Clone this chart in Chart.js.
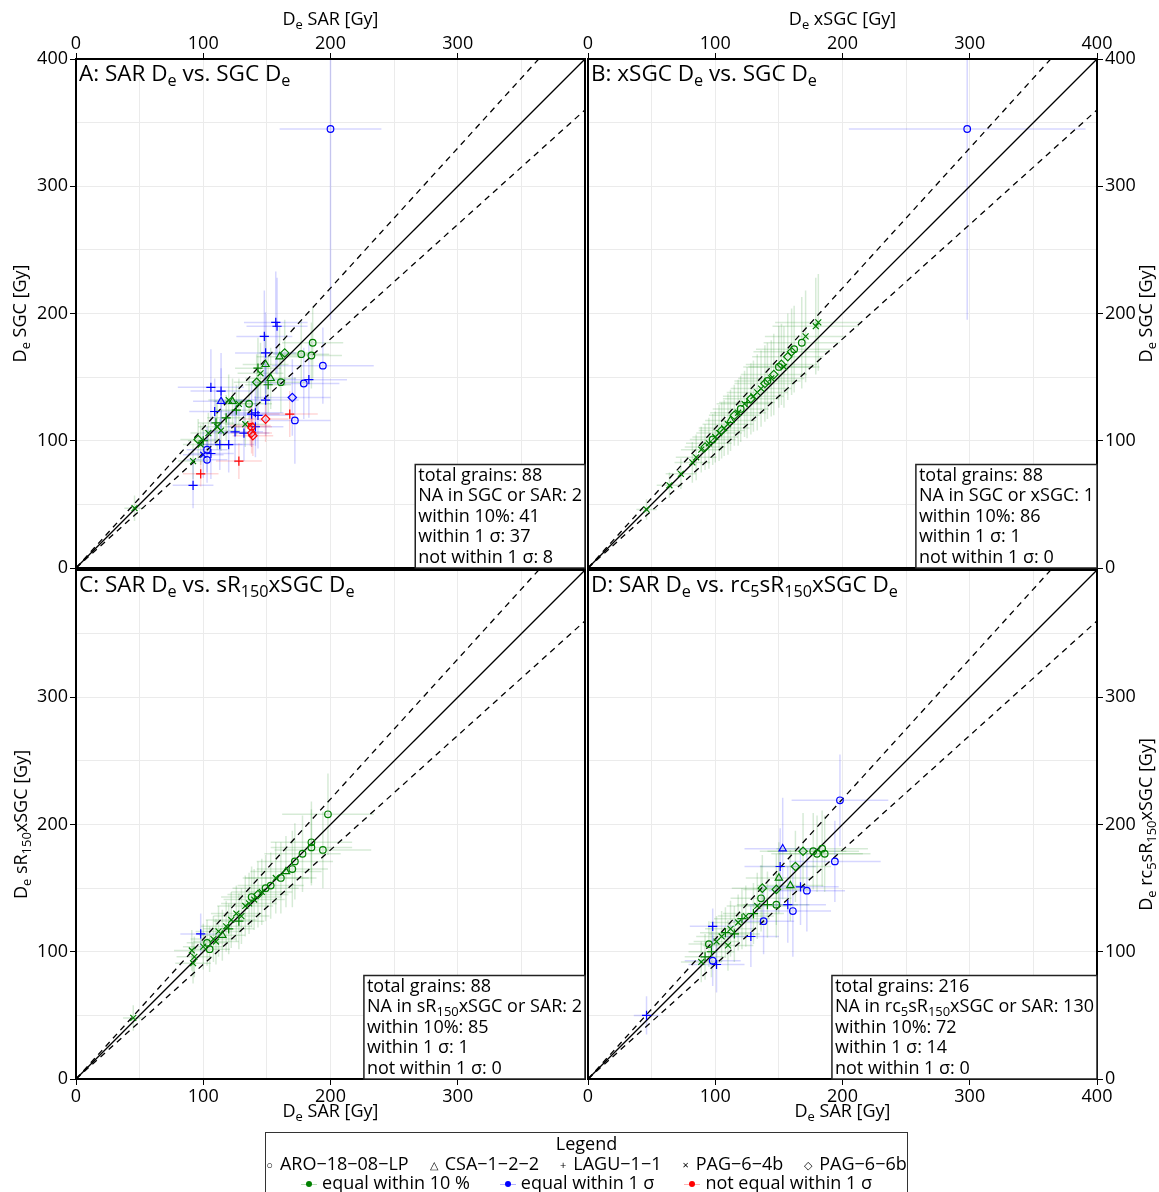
<!DOCTYPE html>
<html>
<head>
<meta charset="utf-8">
<script src="https://cdn.jsdelivr.net/npm/chart.js@4.4.1/dist/chart.umd.min.js"></script>
<style>
  body { margin: 0; background: #fff; font-family: 'Open Sans', sans-serif; }
  .wrap { position: relative; width: 1159px; height: 1192px; overflow: hidden; }
  canvas { position: absolute; left: 0; top: 0; }
  #legend { position: absolute; left: 265px; top: 1132px; width: 641px; height: 80px;
            border: 1px solid #333; font-size: 18px; text-align: center; }
  #legend .head { height: 21px; line-height: 21px; }
  #legend .row { display: flex; justify-content: center; align-items: center; gap: 21px;
                 white-space: nowrap; height: 20px; line-height: 20px; }
  #legend .row2 { gap: 30px; margin-top: -2px; }
  #legend .sym { font-size: 11px; margin-right: 7px; vertical-align: middle; }
  #legend .dot { display: inline-block; position: relative; width: 16px; height: 10px; margin-right: 5px; vertical-align: middle; }
  #legend .dot::before { content: ''; position: absolute; left: 0; right: 0; top: 5px; height: 1px; background: var(--l); }
  #legend .dot::after { content: ''; position: absolute; left: 5px; top: 2px; width: 6px; height: 6px; border-radius: 50%; background: var(--c); }
</style>
</head>
<body>
<div class="wrap">
  <canvas id="cA" width="1159" height="1192"></canvas>
  <canvas id="cB" width="1159" height="1192"></canvas>
  <canvas id="cC" width="1159" height="1192"></canvas>
  <canvas id="cD" width="1159" height="1192"></canvas>
  <div id="legend">
    <div class="head">Legend</div>
    <div class="row">
      <span><span class="sym">○</span>ARO−18−08−LP</span>
      <span><span class="sym">△</span>CSA−1−2−2</span>
      <span><span class="sym">+</span>LAGU−1−1</span>
      <span><span class="sym">×</span>PAG−6−4b</span>
      <span><span class="sym">◇</span>PAG−6−6b</span>
    </div>
    <div class="row row2">
      <span><span class="dot" style="--c:#008000;--l:rgba(0,128,0,0.3)"></span>equal within 10 %</span>
      <span><span class="dot" style="--c:#0000ff;--l:rgba(0,0,255,0.3)"></span>equal within 1 σ</span>
      <span><span class="dot" style="--c:#ff0000;--l:rgba(255,0,0,0.3)"></span>not equal within 1 σ</span>
    </div>
  </div>
</div>
<script>
// samples: 0 ARO-18-08-LP, 1 CSA-1-2-2, 2 LAGU-1-1, 3 PAG-6-4b, 4 PAG-6-6b
// classes: 0 equal within 10 %, 1 equal within 1 sigma, 2 not equal within 1 sigma
const samples = ['ARO−18−08−LP', 'CSA−1−2−2', 'LAGU−1−1', 'PAG−6−4b', 'PAG−6−6b'];
const classes = ['equal within 10 %', 'equal within 1 σ', 'not equal within 1 σ'];
const refSlopes = [1, 1.1, 0.9];
const tickValues = [0, 100, 200, 300, 400];

// panel A: SAR (x) vs SGC (y)
const A_x   = [46, 92, 98, 96, 100, 104, 111, 110, 114, 120, 123, 128, 126, 136, 133, 143, 149, 142, 153, 151, 161, 164, 160, 177, 185, 186, 145, 118,
               157, 158, 148, 149, 194, 183, 179, 170, 172, 106, 114, 114, 109, 149, 138, 141, 143, 141, 132, 125, 120, 113, 103, 106, 100, 103, 92, 200,
               149, 168, 138, 139, 138, 137, 128, 98];
const A_y   = [47, 84, 97, 101, 100, 106, 111, 114, 108, 132, 131, 129, 124, 129, 113, 157, 160, 146, 149, 144, 146, 169, 166, 168, 167, 177, 153, 118,
               193, 190, 182, 169, 159, 148, 145, 134, 116, 142, 139, 131, 123, 132, 121, 122, 120, 111, 106, 107, 97, 97, 93, 90, 89, 85, 65, 345,
               117, 121, 106, 104, 111, 112, 84, 74];
const A_xe  = [8, 12, 14, 14, 12, 14, 15, 14, 15, 16, 15, 16, 16, 18, 16, 18, 18, 18, 20, 18, 20, 20, 18, 22, 24, 24, 18, 15,
               25, 24, 22, 24, 40, 30, 28, 30, 28, 26, 24, 22, 20, 26, 22, 22, 24, 22, 20, 22, 20, 18, 16, 18, 16, 16, 16, 40,
               18, 22, 16, 16, 16, 16, 18, 14];
const A_ye  = [10, 14, 16, 16, 14, 16, 18, 18, 16, 20, 18, 20, 20, 20, 18, 24, 24, 22, 24, 22, 24, 26, 24, 26, 26, 28, 24, 18,
               40, 38, 36, 32, 30, 30, 28, 30, 34, 30, 30, 26, 26, 28, 26, 26, 26, 24, 22, 24, 22, 20, 18, 20, 18, 18, 18, 150,
               18, 18, 16, 16, 16, 16, 14, 10];
const A_smp = [3, 3, 3, 4, 2, 3, 3, 2, 3, 3, 1, 3, 2, 0, 3, 2, 1, 4, 1, 2, 0, 4, 1, 0, 0, 0, 3, 2,
               2, 2, 2, 2, 0, 2, 0, 4, 0, 2, 2, 1, 2, 2, 2, 2, 2, 2, 2, 2, 2, 2, 0, 2, 3, 0, 2, 0,
               4, 2, 4, 4, 0, 3, 2, 2];
const A_cls = [0, 0, 0, 0, 0, 0, 0, 0, 0, 0, 0, 0, 0, 0, 0, 0, 0, 0, 0, 0, 0, 0, 0, 0, 0, 0, 0, 0,
               1, 1, 1, 1, 1, 1, 1, 1, 1, 1, 1, 1, 1, 1, 1, 1, 1, 1, 1, 1, 1, 1, 1, 1, 1, 1, 1, 1,
               2, 2, 2, 2, 2, 2, 2, 2];

// panel B: xSGC (x) vs SGC (y)
const B_x   = [46, 64, 73, 82, 85, 89, 92, 95, 98, 100, 103, 105, 107, 110, 112, 115, 118, 120, 123, 125, 128, 130, 133, 136, 139, 141, 144, 146, 150, 152, 154, 157, 160, 162, 168, 171, 179, 181, 298];
const B_y   = [46, 65, 74, 83, 87, 93, 95, 98, 101, 103, 106, 108, 110, 113, 116, 120, 122, 125, 129, 130, 133, 135, 138, 141, 145, 147, 149, 152, 158, 160, 158, 166, 170, 172, 177, 182, 190, 193, 345];
const B_xe  = [8, 10, 12, 14, 16, 16, 16, 18, 18, 18, 18, 18, 20, 20, 20, 20, 22, 22, 22, 22, 22, 24, 24, 24, 24, 26, 26, 26, 28, 28, 28, 28, 30, 30, 30, 32, 34, 34, 93];
const B_ye  = [8, 10, 12, 16, 18, 18, 18, 20, 20, 20, 22, 22, 22, 24, 24, 24, 26, 26, 26, 28, 28, 28, 30, 30, 30, 30, 30, 32, 32, 32, 32, 34, 34, 34, 36, 36, 38, 38, 150];
const B_smp = [3, 3, 3, 3, 3, 3, 4, 3, 0, 3, 3, 4, 3, 3, 1, 4, 3, 0, 3, 2, 4, 3, 3, 3, 4, 0, 3, 4, 0, 4, 3, 4, 4, 0, 0, 3, 3, 3, 0];
const B_cls = [0, 0, 0, 0, 0, 0, 0, 0, 0, 0, 0, 0, 0, 0, 0, 0, 0, 0, 0, 0, 0, 0, 0, 0, 0, 0, 0, 0, 0, 0, 0, 0, 0, 0, 0, 0, 0, 0, 1];

// panel C: SAR (x) vs sR150xSGC (y)
const C_x   = [45, 92, 93, 91, 98, 103, 105, 100, 108, 110, 112, 115, 118, 120, 122, 126, 128, 130, 133, 136, 138, 140, 143, 146, 149, 153, 157, 161, 165, 170, 172, 178, 185, 185, 194, 198];
const C_y   = [48, 91, 96, 101, 114, 107, 102, 104, 110, 108, 116, 113, 120, 118, 125, 130, 124, 128, 136, 138, 143, 141, 145, 147, 150, 152, 158, 158, 163, 165, 171, 177, 186, 182, 180, 208];
const C_xe  = [8, 14, 14, 14, 16, 16, 16, 16, 18, 18, 18, 18, 20, 20, 20, 20, 20, 22, 22, 22, 24, 24, 24, 24, 26, 26, 26, 28, 28, 28, 30, 30, 32, 32, 38, 36];
const C_ye  = [10, 16, 16, 16, 16, 18, 18, 18, 18, 18, 20, 20, 20, 20, 22, 22, 22, 22, 24, 24, 24, 24, 26, 26, 26, 26, 28, 28, 28, 30, 30, 30, 32, 30, 30, 32];
const C_smp = [3, 3, 3, 3, 2, 0, 0, 3, 3, 3, 3, 1, 3, 2, 3, 3, 2, 3, 3, 3, 0, 3, 4, 3, 0, 0, 3, 0, 1, 0, 0, 0, 0, 0, 0, 0];
const C_cls = [0, 0, 0, 0, 1, 0, 0, 0, 0, 0, 0, 0, 0, 0, 0, 0, 0, 0, 0, 0, 0, 0, 0, 0, 0, 0, 0, 0, 0, 0, 0, 0, 0, 0, 0, 0];

// panel D: SAR (x) vs rc5sR150xSGC (y)
const D_x   = [46, 98, 101, 89, 92, 97, 101, 95, 98, 105, 108, 110, 112, 115, 118, 121, 124, 128, 130, 133, 138, 137, 136, 141, 148, 148, 150, 151, 153, 159, 163, 157, 161, 167, 172, 169, 177, 180, 184, 186, 194, 198];
const D_y   = [50, 93, 90, 92, 96, 100, 108, 106, 120, 112, 115, 105, 118, 114, 123, 126, 128, 112, 130, 136, 124, 150, 142, 137, 137, 149, 158, 167, 181, 152, 167, 137, 132, 151, 148, 179, 179, 177, 181, 177, 171, 219];
const D_xe  = [10, 22, 22, 16, 16, 18, 18, 16, 18, 20, 20, 20, 20, 20, 22, 22, 22, 22, 24, 24, 24, 24, 24, 24, 26, 26, 26, 28, 30, 26, 28, 30, 30, 30, 30, 34, 36, 36, 36, 36, 36, 38];
const D_ye  = [15, 20, 22, 16, 18, 20, 20, 18, 14, 20, 20, 20, 22, 22, 22, 24, 24, 24, 24, 26, 26, 26, 26, 26, 26, 28, 28, 30, 40, 28, 28, 30, 36, 30, 32, 30, 30, 30, 30, 30, 32, 36];
const D_smp = [2, 0, 2, 3, 2, 2, 3, 0, 2, 3, 2, 3, 3, 2, 3, 2, 3, 2, 2, 3, 0, 4, 0, 2, 0, 4, 1, 2, 1, 1, 4, 2, 0, 2, 0, 4, 0, 0, 0, 0, 0, 0];
const D_cls = [1, 1, 1, 0, 0, 0, 0, 0, 1, 0, 0, 0, 0, 0, 0, 0, 0, 1, 0, 0, 1, 0, 0, 0, 0, 0, 0, 1, 1, 0, 0, 1, 1, 1, 1, 0, 0, 0, 0, 0, 1, 1];

const SHAPES = ['circle', 'triangle', 'cross', 'crossRot', 'rectRot'];
const RADII = [3.3, 4.2, 4.6, 4.2, 4.2];
const COLORS = ['#008000', '#0000ff', '#ff0000'];
const BAR_COLORS = ['rgba(0,128,0,0.16)', 'rgba(0,0,255,0.16)', 'rgba(255,0,0,0.16)'];

Chart.defaults.font.family = "'Open Sans', sans-serif";
Chart.defaults.font.size = 18;
Chart.defaults.color = '#000';

function parseRich(s) {
  var out = [], re = /_\{([^}]*)\}/g, last = 0, m;
  while ((m = re.exec(s))) {
    if (m.index > last) out.push({ t: s.slice(last, m.index), sub: false });
    out.push({ t: m[1], sub: true });
    last = re.lastIndex;
  }
  if (last < s.length) out.push({ t: s.slice(last), sub: false });
  return out;
}

function richWidth(ctx, s, size) {
  var w = 0;
  parseRich(s).forEach(function (p) {
    ctx.font = (p.sub ? size * 0.72 : size) + "px 'Open Sans'";
    w += ctx.measureText(p.t).width;
  });
  return w;
}

function drawRich(ctx, s, x, y, size, align) {
  var w = richWidth(ctx, s, size);
  var cx = align === 'center' ? x - w / 2 : x;
  ctx.textBaseline = 'middle';
  ctx.textAlign = 'left';
  ctx.fillStyle = '#000';
  parseRich(s).forEach(function (p) {
    ctx.font = (p.sub ? size * 0.72 : size) + "px 'Open Sans'";
    ctx.fillText(p.t, cx, p.sub ? y + size * 0.3 : y);
    cx += ctx.measureText(p.t).width;
  });
}

var errorBars = {
  id: 'errorBars',
  beforeDatasetsDraw: function (chart) {
    var ctx = chart.ctx, a = chart.chartArea;
    var xs = chart.scales.x, ys = chart.scales.y;
    ctx.save();
    ctx.beginPath();
    ctx.rect(a.left, a.top, a.right - a.left, a.bottom - a.top);
    ctx.clip();
    ctx.lineWidth = 1.5;
    chart.data.datasets[0].data.forEach(function (d) {
      ctx.strokeStyle = BAR_COLORS[d.c];
      var px = xs.getPixelForValue(d.x), py = ys.getPixelForValue(d.y);
      ctx.beginPath();
      ctx.moveTo(xs.getPixelForValue(d.x - d.xe), py);
      ctx.lineTo(xs.getPixelForValue(d.x + d.xe), py);
      ctx.moveTo(px, ys.getPixelForValue(d.y - d.ye));
      ctx.lineTo(px, ys.getPixelForValue(d.y + d.ye));
      ctx.stroke();
    });
    ctx.restore();
  }
};

var decorations = {
  id: 'decorations',
  afterDraw: function (chart) {
    var o = chart.options.plugins.decorations;
    var ctx = chart.ctx, a = chart.chartArea;
    ctx.save();
    // frame
    ctx.strokeStyle = '#000';
    ctx.lineWidth = 2;
    ctx.strokeRect(a.left, a.top, a.right - a.left, a.bottom - a.top);
    // panel title
    drawRich(ctx, o.title, a.left + 3, a.top + 16, 22.5, 'left');
    // axis titles
    var cxm = (a.left + a.right) / 2, cym = (a.top + a.bottom) / 2;
    drawRich(ctx, o.xTitle, cxm, o.xTitleY, 18, 'center');
    ctx.save();
    ctx.translate(o.yTitleX, cym);
    ctx.rotate(-Math.PI / 2);
    drawRich(ctx, o.yTitle, 0, 0, 18, 'center');
    ctx.restore();
    // stats box
    var lh = 20.5, w = 0;
    o.stats.forEach(function (s) { w = Math.max(w, richWidth(ctx, s, 18)); });
    var bx = a.right - w - 6, by = a.bottom - lh * o.stats.length - 1;
    ctx.fillStyle = '#fff';
    ctx.fillRect(bx, by, a.right - bx, a.bottom - by);
    ctx.strokeStyle = '#222';
    ctx.lineWidth = 1.5;
    ctx.strokeRect(bx, by, a.right - bx, a.bottom - by);
    o.stats.forEach(function (s, i) { drawRich(ctx, s, bx + 3, by + 11 + i * lh, 18, 'left'); });
    ctx.restore();
  }
};

function makePanel(id, p) {
  var pts = p.x.map(function (v, i) {
    return { x: v, y: p.y[i], xe: p.xe[i], ye: p.ye[i], s: p.smp[i], c: p.cls[i] };
  });
  var refs = refSlopes.map(function (k) {
    return {
      type: 'line',
      data: [{ x: 0, y: 0 }, k >= 1 ? { x: 400 / k, y: 400 } : { x: 400, y: 400 * k }],
      borderColor: '#000',
      borderWidth: 1.3,
      borderDash: k === 1 ? [] : [6, 5],
      pointRadius: 0,
      fill: false
    };
  });
  var W = 1159, H = 1192;
  var xTop = p.xPos === 'top', yLeft = p.yPos === 'left';
  var pad = {
    left: yLeft ? 0 : p.l,
    right: yLeft ? W - p.r : 0,
    top: xTop ? 0 : p.t,
    bottom: xTop ? H - p.b : 0
  };
  function tickCol(show) {
    return function (c) { return (c.tick && c.tick.value % 100 === 0 && show.indexOf(c.tick.value) >= 0) ? '#000' : 'rgba(0,0,0,0)'; };
  }
  function lab(show) {
    return function (v) { return (v % 100 === 0 && show.indexOf(v) >= 0) ? String(v) : ''; };
  }
  new Chart(document.getElementById(id), {
    type: 'scatter',
    data: {
      datasets: [{
        data: pts,
        pointStyle: function (c) { return SHAPES[c.raw.s]; },
        radius: function (c) { return RADII[c.raw.s]; },
        borderColor: function (c) { return COLORS[c.raw.c]; },
        backgroundColor: 'rgba(0,0,0,0)',
        borderWidth: 1.2
      }].concat(refs)
    },
    options: {
      responsive: false,
      animation: false,
      events: [],
      devicePixelRatio: 1,
      layout: { padding: pad },
      scales: {
        x: {
          type: 'linear', position: p.xPos, min: 0, max: 400,
          ticks: {
            stepSize: 50, autoSkip: false, maxRotation: 0, padding: xTop ? 0 : 1,
            font: { size: 18, lineHeight: xTop ? 1.0 : 1.2 },
            callback: lab(p.xShow)
          },
          grid: { color: '#ebebeb', tickLength: 6, tickColor: tickCol(p.xShow), tickWidth: 1 },
          border: { display: false },
          afterFit: function (s) { s.height = xTop ? p.t : H - p.b; }
        },
        y: {
          type: 'linear', position: p.yPos, min: 0, max: 400,
          ticks: { stepSize: 50, autoSkip: false, padding: 2, callback: lab(p.yShow) },
          grid: { color: '#ebebeb', tickLength: 6, tickColor: tickCol(p.yShow), tickWidth: 1 },
          border: { display: false },
          afterFit: function (s) { s.width = yLeft ? p.l : W - p.r; }
        }
      },
      plugins: {
        legend: { display: false },
        tooltip: { enabled: false },
        decorations: p.deco
      }
    },
    plugins: [errorBars, decorations]
  });
}

makePanel('cA', {
  x: A_x, y: A_y, xe: A_xe, ye: A_ye, smp: A_smp, cls: A_cls,
  l: 76, r: 585, t: 59, b: 568, xPos: 'top', yPos: 'left',
  xShow: [0, 100, 200, 300], yShow: tickValues,
  deco: {
    title: 'A: SAR D_{e} vs. SGC D_{e}',
    xTitle: 'D_{e} SAR [Gy]', xTitleY: 20,
    yTitle: 'D_{e} SGC [Gy]', yTitleX: 21,
    stats: ['total grains: 88', 'NA in SGC or SAR: 2', 'within 10%: 41', 'within 1 σ: 37', 'not within 1 σ: 8']
  }
});
makePanel('cB', {
  x: B_x, y: B_y, xe: B_xe, ye: B_ye, smp: B_smp, cls: B_cls,
  l: 588, r: 1097, t: 59, b: 568, xPos: 'top', yPos: 'right',
  xShow: tickValues, yShow: tickValues,
  deco: {
    title: 'B: xSGC D_{e} vs. SGC D_{e}',
    xTitle: 'D_{e} xSGC [Gy]', xTitleY: 20,
    yTitle: 'D_{e} SGC [Gy]', yTitleX: 1147,
    stats: ['total grains: 88', 'NA in SGC or xSGC: 1', 'within 10%: 86', 'within 1 σ: 1', 'not within 1 σ: 0']
  }
});
makePanel('cC', {
  x: C_x, y: C_y, xe: C_xe, ye: C_ye, smp: C_smp, cls: C_cls,
  l: 76, r: 585, t: 570, b: 1079, xPos: 'bottom', yPos: 'left',
  xShow: [0, 100, 200, 300], yShow: [0, 100, 200, 300],
  deco: {
    title: 'C: SAR D_{e} vs. sR_{150}xSGC D_{e}',
    xTitle: 'D_{e} SAR [Gy]', xTitleY: 1112,
    yTitle: 'D_{e} sR_{150}xSGC [Gy]', yTitleX: 22,
    stats: ['total grains: 88', 'NA in sR_{150}xSGC or SAR: 2', 'within 10%: 85', 'within 1 σ: 1', 'not within 1 σ: 0']
  }
});
makePanel('cD', {
  x: D_x, y: D_y, xe: D_xe, ye: D_ye, smp: D_smp, cls: D_cls,
  l: 588, r: 1097, t: 570, b: 1079, xPos: 'bottom', yPos: 'right',
  xShow: tickValues, yShow: [0, 100, 200, 300],
  deco: {
    title: 'D: SAR D_{e} vs. rc_{5}sR_{150}xSGC D_{e}',
    xTitle: 'D_{e} SAR [Gy]', xTitleY: 1112,
    yTitle: 'D_{e} rc_{5}sR_{150}xSGC [Gy]', yTitleX: 1147,
    stats: ['total grains: 216', 'NA in rc_{5}sR_{150}xSGC or SAR: 130', 'within 10%: 72', 'within 1 σ: 14', 'not within 1 σ: 0']
  }
});
</script>
</body>
</html>
